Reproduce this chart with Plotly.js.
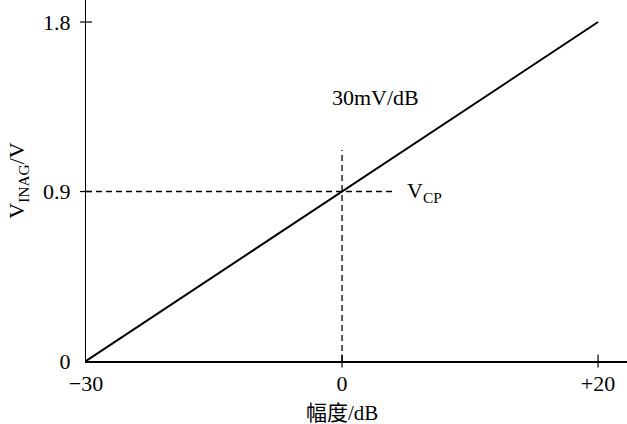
<!DOCTYPE html>
<html><head><meta charset="utf-8">
<script src="https://cdn.plot.ly/plotly-3.0.1.min.js"></script>
<style>html,body{margin:0;padding:0;background:#fff}#chart{width:627px;height:424px}</style>
</head><body><div id="chart"></div>
<script>
// Data
const xLabels = ['\u221230', '0', '+20'];      // amplitude / dB tick labels
const xPos = [0, 1, 2];                          // schematic positions of the labels
const vOut = [0, 0.9, 1.8];                      // V_INAG / V
const yTicks = [0, 0.9, 1.8];
const yTickText = ['0', '0.9', '1.8'];
const vcp = 0.9;       // V_CP level
const vcpX = 1;        // 0 dB
const slopeLabel = '30mV/dB';
const xTitle = '幅度/dB';
const yTitle = 'V<sub>INAG</sub>/V';

const serif = 'Liberation Serif, Times New Roman, serif';
const shapes = [];
// dashed V_CP lines
shapes.push({type:'line', xref:'x', yref:'y', x0:xPos[0], x1:vcpX+0.207, y0:vcp, y1:vcp,
  line:{color:'#000', width:1.3, dash:'6px,4px'}});
shapes.push({type:'line', xref:'x', yref:'y', x0:vcpX, x1:vcpX, y0:0, y1:1.12,
  line:{color:'#000', width:1.3, dash:'6px,4px'}});
// crossing ticks on y axis
yTicks.slice(1).forEach(v => shapes.push({type:'line', xref:'paper', yref:'y', x0:-0.011, x1:0.011, y0:v, y1:v, line:{color:'#000', width:1.2}}));
// crossing ticks on x axis
xPos.slice(1).forEach(v => shapes.push({type:'line', xref:'x', yref:'paper', x0:v, x1:v, y0:-0.018, y1:0.018, line:{color:'#000', width:1.2}}));

const data = [{
  x: xPos, y: vOut, type:'scatter', mode:'lines',
  line:{color:'#000', width:2}, hoverinfo:'skip', showlegend:false
}];

const layout = {
  width:627, height:424,
  margin:{l:86, r:0, t:0, b:63},
  paper_bgcolor:'#fff', plot_bgcolor:'#fff',
  font:{family:serif, color:'#000', size:22},
  showlegend:false,
  xaxis:{
    range:[0, 2.113], tickvals:xPos, ticktext:xLabels, ticks:'',
    showgrid:false, zeroline:false, showline:true, linecolor:'#000', linewidth:2,
    tickfont:{family:serif, size:22}, ticklabelstandoff:2,
    fixedrange:true
  },
  yaxis:{
    range:[0, 1.917], tickvals:yTicks, ticktext:yTickText, ticks:'',
    showgrid:false, zeroline:false, showline:true, linecolor:'#000', linewidth:1,
    tickfont:{family:serif, size:22}, ticklabelstandoff:10,
    title:{text:yTitle, font:{family:serif, size:22}, standoff:12},
    fixedrange:true
  },
  shapes: shapes,
  annotations:[
    {x:vcpX+0.13, y:1.4, xref:'x', yref:'y', text:slopeLabel, showarrow:false,
     font:{family:serif, size:22}, xanchor:'center', yanchor:'middle'},
    {x:vcpX+0.245, y:vcp, xref:'x', yref:'y', text:'V<sub>CP</sub>', showarrow:false,
     font:{family:serif, size:22}, xanchor:'left', yanchor:'middle'},
    {x:vcpX, y:-0.145, xref:'x', yref:'paper', text:xTitle, showarrow:false,
     font:{family:'Liberation Serif, Noto Sans CJK SC, serif', size:21}, xanchor:'center', yanchor:'middle'}
  ]
};
Plotly.newPlot('chart', data, layout, {displayModeBar:false, staticPlot:true});
</script></body></html>
